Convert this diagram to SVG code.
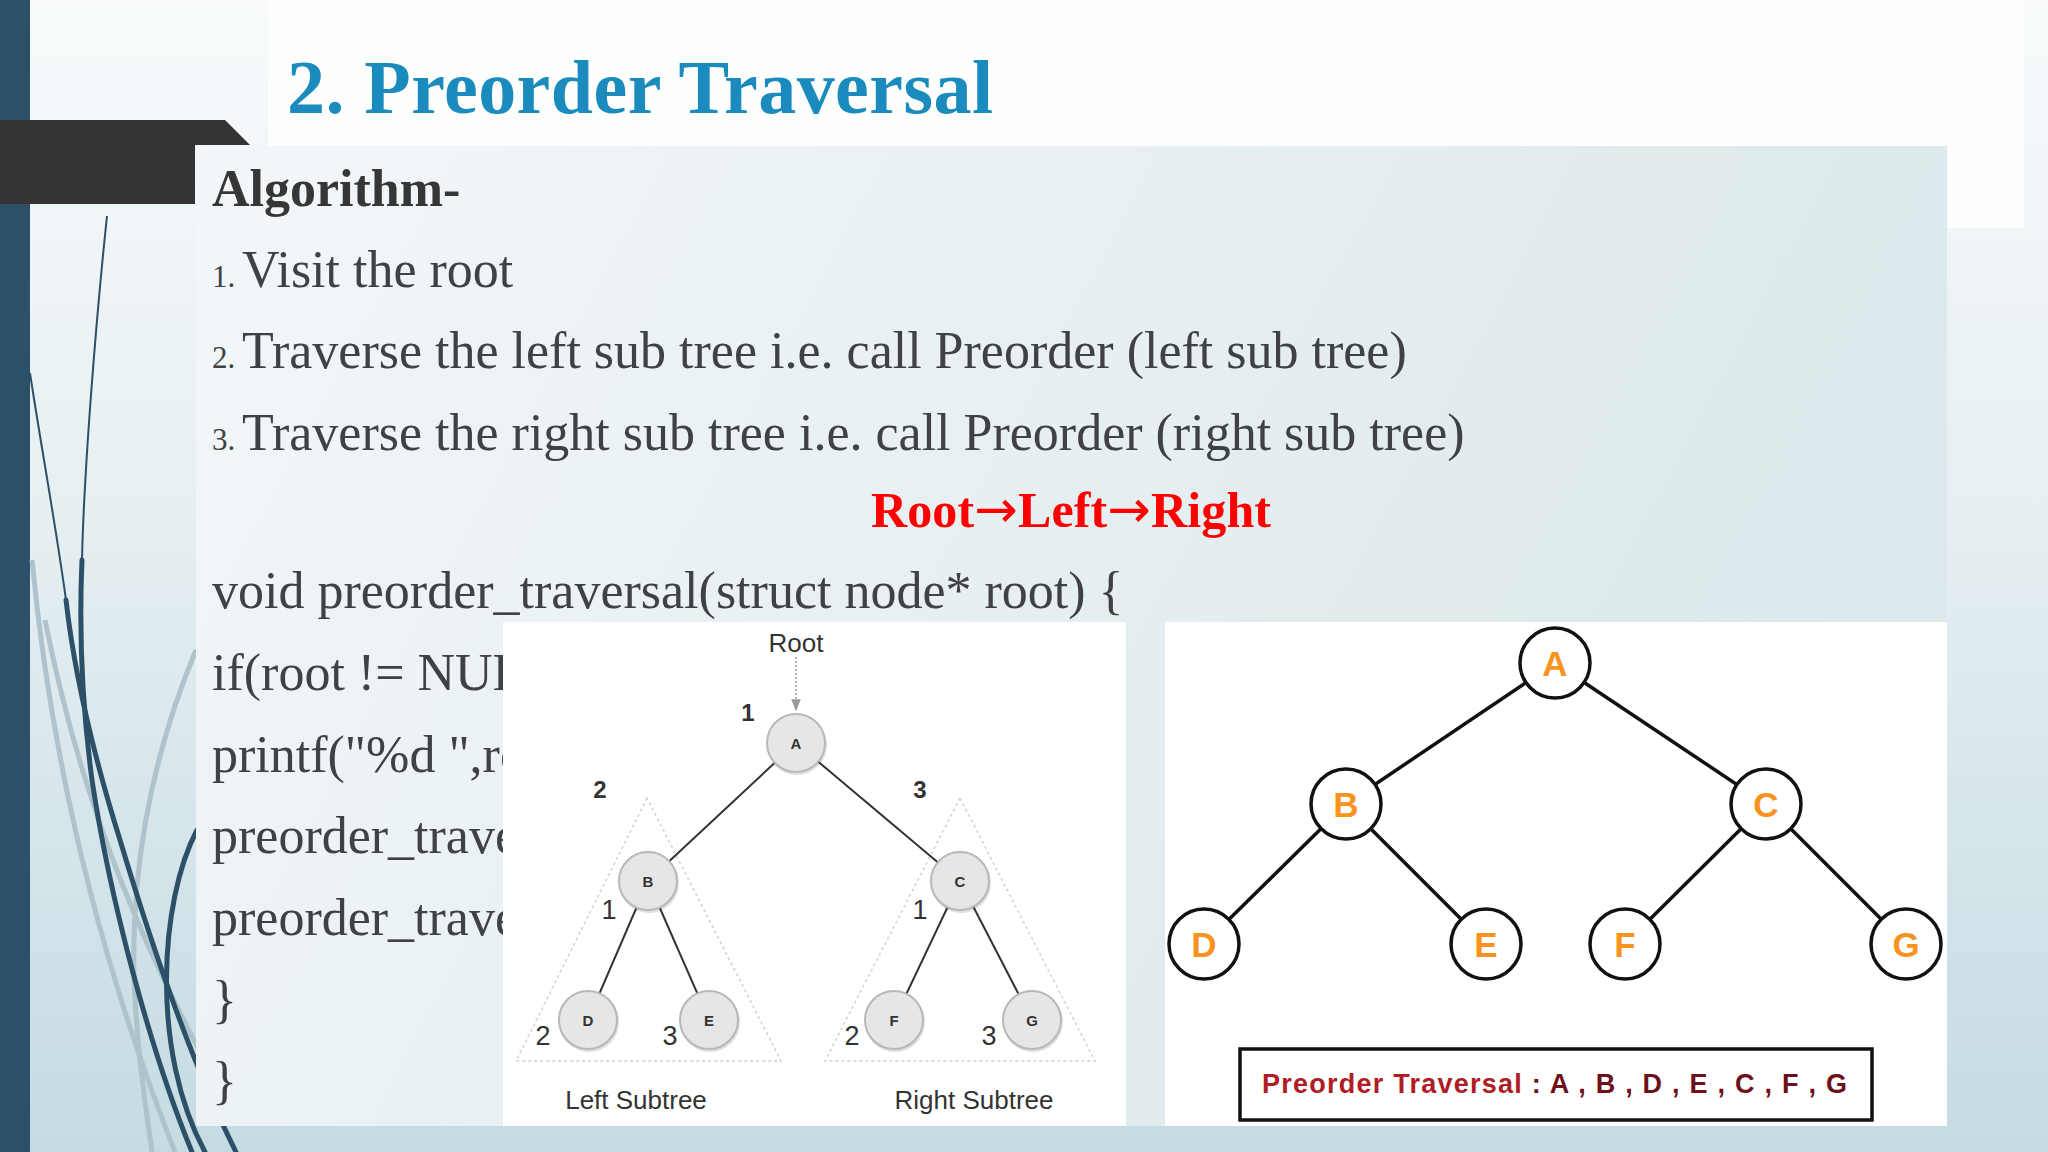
<svg xmlns="http://www.w3.org/2000/svg" width="2048" height="1152" viewBox="0 0 2048 1152">
<defs>
  <linearGradient id="bg" x1="0" y1="0" x2="0" y2="1">
    <stop offset="0" stop-color="#f8fafb"/>
    <stop offset="0.45" stop-color="#e6eff2"/>
    <stop offset="1" stop-color="#c5dbe2"/>
  </linearGradient>
  <linearGradient id="panel" x1="0" y1="0" x2="1" y2="0.3">
    <stop offset="0" stop-color="#f3f7f9"/>
    <stop offset="0.6" stop-color="#e5eef1"/>
    <stop offset="1" stop-color="#dce8eb"/>
  </linearGradient>
  <marker id="ah" viewBox="0 0 10 10" refX="9" refY="5" markerWidth="8" markerHeight="8" orient="auto">
    <path d="M0,1 L10,5 L0,9 z" fill="#9a9a9a"/>
  </marker>
</defs>
<style>
  .body{font-family:"Liberation Serif","Times New Roman",serif;font-size:52px;fill:#3f4142}
  .num{font-size:31px}
  .title{font-family:"Liberation Serif","Times New Roman",serif;font-size:76px;font-weight:bold;fill:#1b8bbd}
  .bold{font-weight:bold;fill:#363636}
  .red{font-family:"Liberation Serif","Times New Roman",serif;font-size:50px;font-weight:bold;fill:#ff0000}
  .arrow{font-family:"DejaVu Sans",sans-serif;font-weight:normal;font-size:52px}
  .wisp{fill:none;stroke:#2b5068;stroke-width:5;stroke-linecap:round}
  .wispThin{fill:none;stroke:#2b5068;stroke-width:2}
  .wispLight{fill:none;stroke:#aec3cb;stroke-width:5}
  .t1edge{stroke:#333;stroke-width:2}
  .t1node{fill:#e6e6e6;stroke:#b8b8b8;stroke-width:2}
  .t1shadow{fill:#000;opacity:0.12}
  .t1lab{font-family:"Liberation Sans",Arial,sans-serif;font-size:15px;font-weight:bold;fill:#333;text-anchor:middle}
  .t1bold{font-family:"Liberation Sans",Arial,sans-serif;font-size:24px;font-weight:bold;fill:#333;text-anchor:middle}
  .t1num{font-family:"Liberation Sans",Arial,sans-serif;font-size:27px;fill:#333;text-anchor:middle}
  .t1cap{font-family:"Liberation Sans",Arial,sans-serif;font-size:26px;fill:#333;text-anchor:middle}
  .tri{fill:none;stroke:#d2d2d2;stroke-width:1.5;stroke-dasharray:3 3}
  .t2edge{stroke:#111;stroke-width:3.5}
  .t2node{fill:#fff;stroke:#111;stroke-width:3.5}
  .t2lab{font-family:"Liberation Sans",Arial,sans-serif;font-size:35px;font-weight:bold;fill:#f7931e;text-anchor:middle}
</style>

<!-- background -->
<rect x="0" y="0" width="2048" height="1152" fill="url(#bg)"/>
<rect x="268" y="0" width="1756" height="228" fill="#fdfefe"/>
<rect x="0" y="0" width="30" height="1152" fill="#2b5068"/>

<!-- decorative wisps -->
<g id="wisps">
  <path class="wispLight" d="M32,560 C55,800 115,1000 175,1152"/>
  <path class="wispLight" d="M45,620 C85,820 150,960 215,1080"/>
  <path class="wispLight" d="M196,650 C150,760 128,880 135,1000 C140,1080 148,1120 152,1152"/>
  <path class="wispThin" d="M107,216 C96,320 84,470 82,560"/>
  <path class="wisp" d="M82,560 C78,650 84,720 92,780 C110,900 150,1050 192,1152"/>
  <path class="wispThin" d="M30,373 C40,440 55,520 66,600"/>
  <path class="wisp" d="M66,600 C75,680 95,760 120,840 C150,940 190,1060 236,1152"/>
  <path class="wisp" d="M197,830 C160,900 150,1050 205,1152"/>
</g>

<!-- dark tab -->
<polygon points="0,120 225,120 250,145 195,145 195,204 0,204" fill="#333333"/>

<!-- content panel -->
<rect x="196" y="146" width="1751" height="980" fill="url(#panel)"/>

<!-- title -->
<text class="title" x="287" y="113" textLength="706">2. Preorder Traversal</text>

<!-- algorithm text -->
<g id="algorithm">
  <text class="body bold" x="212" y="206" font-size="50">Algorithm-</text>
  <text class="body" x="212" y="287"><tspan class="num">1.</tspan><tspan x="242">Visit the root</tspan></text>
  <text class="body" x="212" y="368"><tspan class="num">2.</tspan><tspan x="242">Traverse the left sub tree i.e. call Preorder (left sub tree)</tspan></text>
  <text class="body" x="212" y="450"><tspan class="num">3.</tspan><tspan x="242">Traverse the right sub tree i.e. call Preorder (right sub tree)</tspan></text>
  <text class="red" x="871" y="527" textLength="400">Root<tspan class="arrow">→</tspan>Left<tspan class="arrow">→</tspan>Right</text>
</g>

<!-- code -->
<g id="code">
  <text class="body" x="212" y="608">void preorder_traversal(struct node* root) {</text>
  <text class="body" x="212" y="690">if(root != NUL</text>
  <text class="body" x="212" y="772">printf("%d ",ro</text>
  <text class="body" x="212" y="853">preorder_trave</text>
  <text class="body" x="212" y="935">preorder_trave</text>
  <text class="body" x="212" y="1017">}</text>
  <text class="body" x="212" y="1098">}</text>
</g>

<!-- left tree image -->
<g id="tree1">
  <rect x="503" y="622" width="623" height="504" fill="#ffffff"/>
  <polygon class="tri" points="647,798 516,1061 781,1061"/>
  <polygon class="tri" points="960,798 825,1061 1095,1061"/>
  <g id="tree1-connectors">
    <line class="t1edge" x1="796" y1="743" x2="648" y2="881"/>
    <line class="t1edge" x1="796" y1="743" x2="960" y2="881"/>
    <line class="t1edge" x1="648" y1="881" x2="588" y2="1020"/>
    <line class="t1edge" x1="648" y1="881" x2="709" y2="1020"/>
    <line class="t1edge" x1="960" y1="881" x2="894" y2="1020"/>
    <line class="t1edge" x1="960" y1="881" x2="1032" y2="1020"/>
    <line x1="796" y1="657" x2="796" y2="710" stroke="#9a9a9a" stroke-width="1.5" stroke-dasharray="2 2" marker-end="url(#ah)"/>
  </g>
  <text class="t1cap" x="796" y="652" font-size="24" fill="#555">Root</text>
  <text class="t1bold" x="748" y="721" font-size="23">1</text>
  <text class="t1bold" x="600" y="798">2</text>
  <text class="t1bold" x="920" y="798">3</text>
  <g id="t1-A"><circle class="t1shadow" cx="797" cy="745" r="30"/><circle class="t1node" cx="796" cy="743" r="29"/><text class="t1lab" x="796" y="749">A</text></g>
  <g id="t1-B"><circle class="t1shadow" cx="649" cy="883" r="30"/><circle class="t1node" cx="648" cy="881" r="29"/><text class="t1lab" x="648" y="887">B</text></g>
  <g id="t1-C"><circle class="t1shadow" cx="961" cy="883" r="30"/><circle class="t1node" cx="960" cy="881" r="29"/><text class="t1lab" x="960" y="887">C</text></g>
  <g id="t1-D"><circle class="t1shadow" cx="589" cy="1022" r="30"/><circle class="t1node" cx="588" cy="1020" r="29"/><text class="t1lab" x="588" y="1026">D</text></g>
  <g id="t1-E"><circle class="t1shadow" cx="710" cy="1022" r="30"/><circle class="t1node" cx="709" cy="1020" r="29"/><text class="t1lab" x="709" y="1026">E</text></g>
  <g id="t1-F"><circle class="t1shadow" cx="895" cy="1022" r="30"/><circle class="t1node" cx="894" cy="1020" r="29"/><text class="t1lab" x="894" y="1026">F</text></g>
  <g id="t1-G"><circle class="t1shadow" cx="1033" cy="1022" r="30"/><circle class="t1node" cx="1032" cy="1020" r="29"/><text class="t1lab" x="1032" y="1026">G</text></g>
  <text class="t1num" x="609" y="919">1</text>
  <text class="t1num" x="920" y="919">1</text>
  <text class="t1num" x="543" y="1045">2</text>
  <text class="t1num" x="670" y="1045">3</text>
  <text class="t1num" x="852" y="1045">2</text>
  <text class="t1num" x="989" y="1045">3</text>
  <text class="t1cap" x="636" y="1109">Left Subtree</text>
  <text class="t1cap" x="974" y="1109">Right Subtree</text>
</g>

<!-- right tree image -->
<g id="tree2">
  <rect x="1165" y="622" width="782" height="504" fill="#ffffff"/>
  <g id="tree2-connectors">
    <line class="t2edge" x1="1555" y1="663" x2="1346" y2="804"/>
    <line class="t2edge" x1="1555" y1="663" x2="1766" y2="804"/>
    <line class="t2edge" x1="1346" y1="804" x2="1204" y2="944"/>
    <line class="t2edge" x1="1346" y1="804" x2="1486" y2="944"/>
    <line class="t2edge" x1="1766" y1="804" x2="1625" y2="944"/>
    <line class="t2edge" x1="1766" y1="804" x2="1906" y2="944"/>
  </g>
  <g id="t2-A"><circle class="t2node" cx="1555" cy="663" r="35"/><text class="t2lab" x="1555" y="676">A</text></g>
  <g id="t2-B"><circle class="t2node" cx="1346" cy="804" r="35"/><text class="t2lab" x="1346" y="817">B</text></g>
  <g id="t2-C"><circle class="t2node" cx="1766" cy="804" r="35"/><text class="t2lab" x="1766" y="817">C</text></g>
  <g id="t2-D"><circle class="t2node" cx="1204" cy="944" r="35"/><text class="t2lab" x="1204" y="957">D</text></g>
  <g id="t2-E"><circle class="t2node" cx="1486" cy="944" r="35"/><text class="t2lab" x="1486" y="957">E</text></g>
  <g id="t2-F"><circle class="t2node" cx="1625" cy="944" r="35"/><text class="t2lab" x="1625" y="957">F</text></g>
  <g id="t2-G"><circle class="t2node" cx="1906" cy="944" r="35"/><text class="t2lab" x="1906" y="957">G</text></g>
  <g id="t2-result">
    <rect x="1240" y="1049" width="632" height="71" fill="#fff" stroke="#111" stroke-width="3.5"/>
    <text x="1262" y="1093" font-family="'Liberation Sans',Arial,sans-serif" font-size="27" font-weight="bold" textLength="585" fill="#6e0f1c"><tspan fill="#b01c24">Preorder Traversal</tspan> : A , B , D , E , C , F , G</text>
  </g>
</g>
</svg>
